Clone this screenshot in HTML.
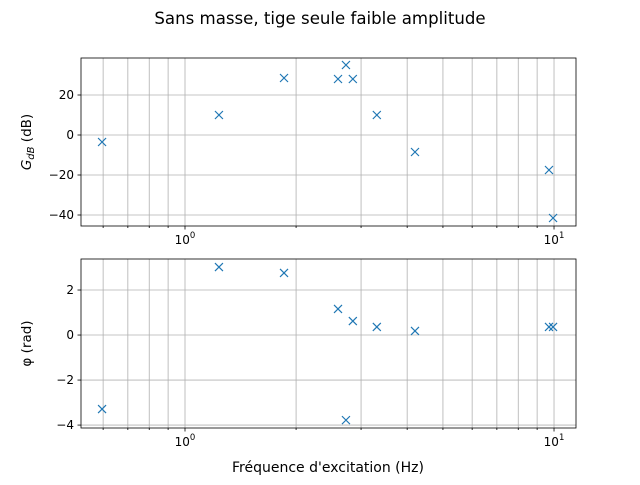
<!DOCTYPE html>
<html><head><meta charset="utf-8"><style>
body{margin:0;background:#fff;}
svg text{font-family:"DejaVu Sans","Liberation Sans",sans-serif;fill:#000;}
</style></head><body>
<svg id="chart" width="640" height="480" xmlns="http://www.w3.org/2000/svg">
<text x="320" y="24" font-size="16.6" text-anchor="middle">Sans masse, tige seule faible amplitude</text>
</svg>
<script>
const freqs = [0.596, 1.236, 1.855, 2.598, 2.73, 2.85, 3.31, 4.20, 9.69, 9.94];
const gainDb = [-3.5, 10, 28.5, 28, 35, 28, 10, -8.5, -17.5, -41.5];
const phase = [-3.29, 3.02, 2.76, 1.16, -3.78, 0.62, 0.36, 0.18, 0.36, 0.36];
const gainTicks = [-40, -20, 0, 20];
const phaseTicks = [-4, -2, 0, 2];
const xTickLabels = ["10^0", "10^1"];

const NS = "http://www.w3.org/2000/svg";
const svg = document.getElementById("chart");
const X0 = 81, X1 = 576, LMIN = Math.log10(0.5226), LMAX = Math.log10(11.47);
function xs(f){return X0 + (Math.log10(f)-LMIN)/(LMAX-LMIN)*(X1-X0);}
function mk(tag, attrs, parent){const e=document.createElementNS(NS,tag);for(const k in attrs)e.setAttribute(k,attrs[k]);(parent||svg).appendChild(e);return e;}

function panel(name, top, bottom, ymin, ymax, ticks, vals, label){
  const g = mk("g",{});
  
  
  const ys = v => bottom - (v-ymin)/(ymax-ymin)*(bottom-top);
  for(let d=-1; d<=1; d++){
    for(let m=1; m<10; m++){
      const f = m*Math.pow(10,d);
      const x = xs(f);
      if(x<X0||x>X1) continue;
      const l = mk("line",{x1:x,x2:x,y1:top,y2:bottom,stroke:"#b0b0b0","stroke-width":0.8},g);
      
      
      mk("line",{x1:x,x2:x,y1:bottom,y2:bottom+(m===1?3.5:2),stroke:"#000","stroke-width":0.8},g);
      if(m===1){
        const t = mk("text",{x:x,y:bottom+18,"font-size":"12","text-anchor":"middle"},g);
        
        
        t.innerHTML = "10<tspan dy='-6' font-size='8.5'>"+(d)+"</tspan>";
      }
    }
  }
  ticks.forEach(v=>{
    const y = ys(v);
    const l = mk("line",{x1:X0,x2:X1,y1:y,y2:y,stroke:"#b0b0b0","stroke-width":0.8},g);
    
    
    mk("line",{x1:X0-3.5,x2:X0,y1:y,y2:y,stroke:"#000","stroke-width":0.8},g);
    const t = mk("text",{x:X0-7,y:y+4,"font-size":"12","text-anchor":"end"},g);
    
    
    t.textContent = (v<0?"\u2212":"")+Math.abs(v);
  });
  const fr = mk("rect",{x:X0,y:top,width:X1-X0,height:bottom-top,fill:"none",stroke:"#000","stroke-width":0.8},g);
  
  
  vals.forEach((v,i)=>{
    const x = xs(freqs[i]), y = ys(v), s=4;
    const p = mk("path",{d:`M${x-s},${y-s}L${x+s},${y+s}M${x-s},${y+s}L${x+s},${y-s}`,stroke:"#1f77b4","stroke-width":1.2,fill:"none"},g);
    
    
  });
  const yl = mk("text",{transform:`translate(31,${(top+bottom)/2}) rotate(-90)`,"font-size":"13.5","text-anchor":"middle"},g);
  
  
  yl.innerHTML = label;
}
panel("gain-panel",58,226,-45.5,38.5,gainTicks,gainDb,"<tspan font-style='italic'>G</tspan><tspan font-style='italic' font-size='10' dy='3'>dB</tspan><tspan dy='-3'> (dB)</tspan>");
panel("phase-panel",259,428,-4.13,3.378,phaseTicks,phase,"φ (rad)");
const xl = mk("text",{x:328,y:472,"font-size":"14","text-anchor":"middle"});


xl.textContent = "Fréquence d'excitation (Hz)";
</script>
</body></html>
